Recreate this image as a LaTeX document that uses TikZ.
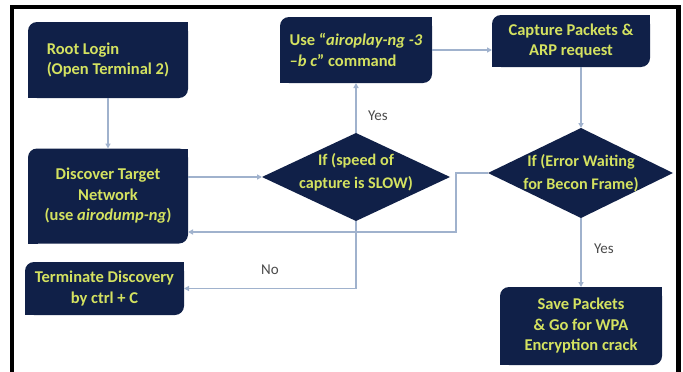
\documentclass[tikz,border=0pt]{standalone}
\usepackage{fontspec}
\setmainfont{Carlito}
\usetikzlibrary{arrows.meta}
\definecolor{navy}{RGB}{16,32,72}
\definecolor{ytext}{RGB}{212,226,96}
\definecolor{conn}{RGB}{160,178,205}
\definecolor{lbl}{RGB}{75,75,75}
\tikzset{
  box/.style={fill=navy, rounded corners=9pt, outer sep=0pt, inner sep=0pt,
    text=ytext, font=\fontsize{16.5}{20.5}\selectfont\bfseries, align=center},
  dtext/.style={text=ytext, font=\fontsize{16.2}{23}\selectfont\bfseries, align=center, inner sep=0pt},
  conn/.style={draw=conn, line width=1.5pt, -{Triangle[length=5pt,width=5pt]}},
  lab/.style={text=lbl, font=\fontsize{15}{16}\selectfont, inner sep=0pt},
}
\begin{document}
\begin{tikzpicture}[x=1pt,y=-1pt]
\useasboundingbox (0,0) rectangle (683,372);
\fill[white] (0,0) rectangle (683,372);
% frame
\draw[line width=4.5pt] (12,372) -- (12,7) -- (678.5,7) -- (678.5,372);
% boxes
\node[box, minimum width=160pt, minimum height=76pt, align=left] (root) at (108,60)
  {Root Login\\(Open Terminal 2)};
\node[box, minimum width=160pt, minimum height=95pt] (disc) at (108,196)
  {Discover Target\\Network\\(use \textit{airodump-ng})};
\node[box, minimum width=159pt, minimum height=53pt] (term) at (104.5,288.5)
  {Terminate Discovery\\by ctrl + C};
\node[box, minimum width=152pt, minimum height=66pt, align=left] (use) at (356,50)
  {Use “\textit{airoplay-ng -3}\\\textit{–b c}” command};
\node[box, minimum width=158pt, minimum height=52pt] (cap) at (571,41)
  {Capture Packets \&\\ARP request};
\node[box, minimum width=162pt, minimum height=78pt] (save) at (581,326)
  {Save Packets\\\& Go for WPA\\Encryption crack};
% sharp corners (top right, bottom left)
\foreach \n in {root,disc,term,use,cap,save}{
  \fill[navy] (\n.north east) rectangle ++(-10,10);
  \fill[navy] (\n.south west) rectangle ++(10,-10);
}
% diamonds
\coordinate (d1n) at (356,133);
\coordinate (d1s) at (356,221);
\coordinate (d1w) at (262,177);
\coordinate (d1e) at (450,177);
\fill[navy] (d1n) -- (d1e) -- (d1s) -- (d1w) -- cycle;
\node[dtext] (d1) at (356,172) {If (speed of\\capture is SLOW)};
\coordinate (d2n) at (581,128);
\coordinate (d2s) at (581,218);
\coordinate (d2w) at (488,173);
\coordinate (d2e) at (673,173);
\fill[navy] (d2n) -- (d2e) -- (d2s) -- (d2w) -- cycle;
\node[dtext] (d2) at (581,173) {If (Error Waiting\\for Becon Frame)};
% connectors
\draw[conn] (root.south) -- (disc.north);
\draw[conn] (disc.east |- d1w) -- (d1w);
\draw[conn] (d1n) -- (use.south);
\draw[conn] (use.east) -- (cap.west |- use.east);
\draw[conn] (cap.south -| d2n) -- (d2n);
\coordinate (j) at (456,232);
\draw[conn] (d2w) -| (j) -- (disc.east |- j);
\draw[conn] (d1s) |- (term.east);
\draw[conn] (d2s) -- (save.north);
% labels
\node[lab] (yes1) at (378,116) {Yes};
\node[lab] (no1) at (270,270) {No};
\node[lab] (yes2) at (604,249) {Yes};
\end{tikzpicture}
\end{document}
